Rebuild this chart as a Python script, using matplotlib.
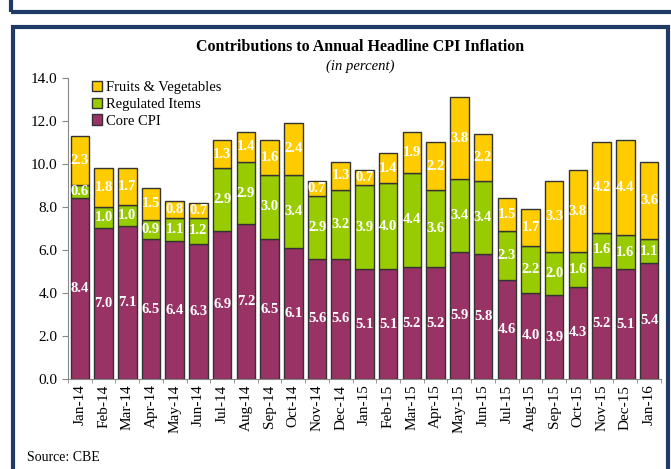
import matplotlib
matplotlib.use("Agg")
import matplotlib.pyplot as plt
import numpy as np
from matplotlib.patches import Rectangle

months = ["Jan-14", "Feb-14", "Mar-14", "Apr-14", "May-14", "Jun-14", "Jul-14", "Aug-14",
          "Sep-14", "Oct-14", "Nov-14", "Dec-14", "Jan-15", "Feb-15", "Mar-15", "Apr-15",
          "May-15", "Jun-15", "Jul-15", "Aug-15", "Sep-15", "Oct-15", "Nov-15", "Dec-15", "Jan-16"]
core = [8.4, 7.0, 7.1, 6.5, 6.4, 6.3, 6.9, 7.2, 6.5, 6.1, 5.6, 5.6, 5.1,
        5.1, 5.2, 5.2, 5.9, 5.8, 4.6, 4.0, 3.9, 4.3, 5.2, 5.1, 5.4]
regulated = [0.6, 1.0, 1.0, 0.9, 1.1, 1.2, 2.9, 2.9, 3.0, 3.4, 2.9, 3.2, 3.9,
             4.0, 4.4, 3.6, 3.4, 3.4, 2.3, 2.2, 2.0, 1.6, 1.6, 1.6, 1.1]
fruits = [2.3, 1.8, 1.7, 1.5, 0.8, 0.7, 1.3, 1.4, 1.6, 2.4, 0.7, 1.3, 0.7,
          1.4, 1.9, 2.2, 3.8, 2.2, 1.5, 1.7, 3.3, 3.8, 4.2, 4.4, 3.6]

plt.rcParams['font.family'] = ['Liberation Serif', 'DejaVu Serif']

fig = plt.figure(figsize=(6.71, 4.69), dpi=100)
ax = fig.add_axes([0.1013, 0.1919, 0.8837, 0.6418])

# blue frames
navy = "#1F3A64"
fig.patches.append(Rectangle((0.016, 0.974), 1.0, 0.03, transform=fig.transFigure,
                             fill=False, edgecolor=navy, linewidth=3))
fig.patches.append(Rectangle((0.02, -0.01), 0.976, 0.952, transform=fig.transFigure,
                             fill=False, edgecolor=navy, linewidth=3))

x = np.arange(len(months))
w = 0.78
c_core, c_reg, c_fr = "#993366", "#99CC00", "#FFCC00"
b1 = ax.bar(x, core, w, color=c_core, edgecolor="#333333", linewidth=1.0, label="Core CPI")
b2 = ax.bar(x, regulated, w, bottom=core, color=c_reg, edgecolor="#333333", linewidth=1.0,
            label="Regulated Items")
bot2 = np.array(core) + np.array(regulated)
b3 = ax.bar(x, fruits, w, bottom=bot2, color=c_fr, edgecolor="#333333", linewidth=1.0,
            label="Fruits & Vegetables")

for bars, vals, bots in [(b1, core, np.zeros(len(core))), (b2, regulated, core), (b3, fruits, bot2)]:
    for i, v in enumerate(vals):
        ax.text(x[i], bots[i] + v / 2, f"{v:.1f}", ha="center", va="center",
                color="white", fontsize=10.5, fontweight="bold")

ax.set_xlim(-0.5, len(months) - 0.5)
ax.set_ylim(0, 14)
ax.set_yticks(np.arange(0, 15, 2))
ax.set_yticklabels([f"{t:.1f}" for t in np.arange(0, 15, 2)], fontsize=11)
ax.set_xticks(x)
ax.set_xticklabels(months, rotation=90, fontsize=11)
ax.tick_params(axis="x", length=0, pad=4)
ax.set_xticks(np.arange(-0.5, len(months), 1), minor=True)
ax.tick_params(axis="x", which="minor", length=3, color="#888888")
ax.tick_params(axis="y", length=4, color="#888888")
for s in ["top", "right"]:
    ax.spines[s].set_visible(False)
ax.spines["left"].set_color("#888888")
ax.spines["bottom"].set_color("#888888")

h, l = ax.get_legend_handles_labels()
ax.legend(h[::-1], l[::-1], loc="upper left", bbox_to_anchor=(0.025, 1.02), frameon=False,
          fontsize=10.5, handlelength=0.7, handleheight=0.7, handletextpad=0.3,
          labelspacing=0.25, borderaxespad=0.2)

fig.text(0.537, 0.90, "Contributions to Annual Headline CPI Inflation", ha="center",
         va="center", fontsize=11.5, fontweight="bold")
fig.text(0.537, 0.859, "(in percent)", ha="center", va="center", fontsize=10.5, style="italic")
fig.text(0.04, 0.017, "Source: CBE", fontsize=10)

fig.savefig("out.png", dpi=100)
